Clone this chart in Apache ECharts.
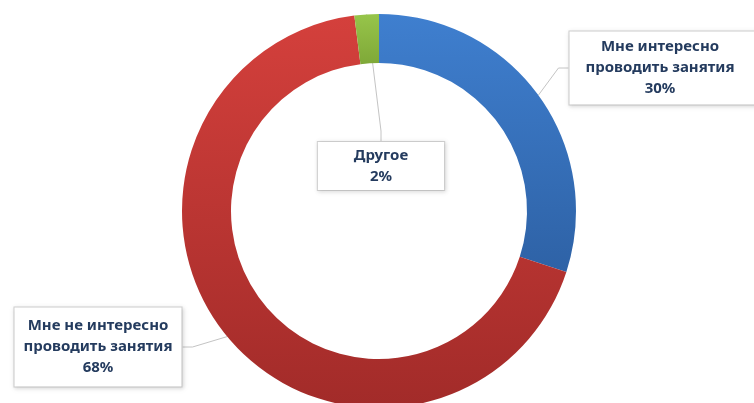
<!DOCTYPE html>
<html>
<head>
<meta charset="utf-8">
<script src="https://cdn.jsdelivr.net/npm/echarts@6/dist/echarts.min.js"></script>
<style>
  html, body { margin: 0; padding: 0; background: #fff; }
  #chart { width: 754px; height: 403px; }
</style>
</head>
<body>
<div id="chart"></div>
<script>
const categories = ["Мне интересно\nпроводить занятия", "Мне не интересно\nпроводить занятия", "Другое"]
const values = [30, 68, 2]

// slice colors (top -> bottom of each slice)
const sliceColors = [
  ["#3f7fcf", "#2e62a6"],
  ["#d4403c", "#a22b29"],
  ["#97c54a", "#7fa838"],
]
// label box centers and paddings
const labelPos = [
  { x: 664, y: 68, padding: [5, 24, 5, 16] },
  { x: 98, y: 347, padding: [8, 9, 8, 9] },
  { x: 381, y: 166, padding: [3, 36, 3, 36] },
]

const chart = echarts.init(document.getElementById("chart"))

chart.setOption({
  backgroundColor: "#fff",
  animation: false,
  series: [
    {
      type: "pie",
      center: [379, 211],
      radius: [148, 197],
      startAngle: 90,
      clockwise: true,
      avoidLabelOverlap: false,
      data: categories.map((name, i) => ({
        name,
        value: values[i],
        itemStyle: {
          color: {
            type: "linear",
            x: 0, y: 0, x2: 0, y2: 1,
            colorStops: [
              { offset: 0, color: sliceColors[i][0] },
              { offset: 1, color: sliceColors[i][1] },
            ],
          },
        },
        label: { padding: labelPos[i].padding },
      })),
      label: {
        show: true,
        position: "outside",
        formatter: "{b}\n{c}%",
        fontFamily: "Noto Sans",
        fontWeight: "bold",
        fontSize: 15,
        lineHeight: 21,
        color: "#243b5e",
        align: "center",
        backgroundColor: "#fff",
        borderColor: "#d2d2d2",
        borderWidth: 1,
        shadowColor: "rgba(0,0,0,0.12)",
        shadowBlur: 4,
        shadowOffsetX: 1,
        shadowOffsetY: 1,
      },
      labelLine: {
        show: true,
        length: 10,
        length2: 10,
        lineStyle: { color: "#c4c4c4", width: 1 },
      },
      labelLayout: (params) => {
        const p = labelPos[params.dataIndex]
        return { x: p.x, y: p.y, align: "center", verticalAlign: "middle" }
      },
      emphasis: { disabled: true },
    },
  ],
})
</script>
</body>
</html>
